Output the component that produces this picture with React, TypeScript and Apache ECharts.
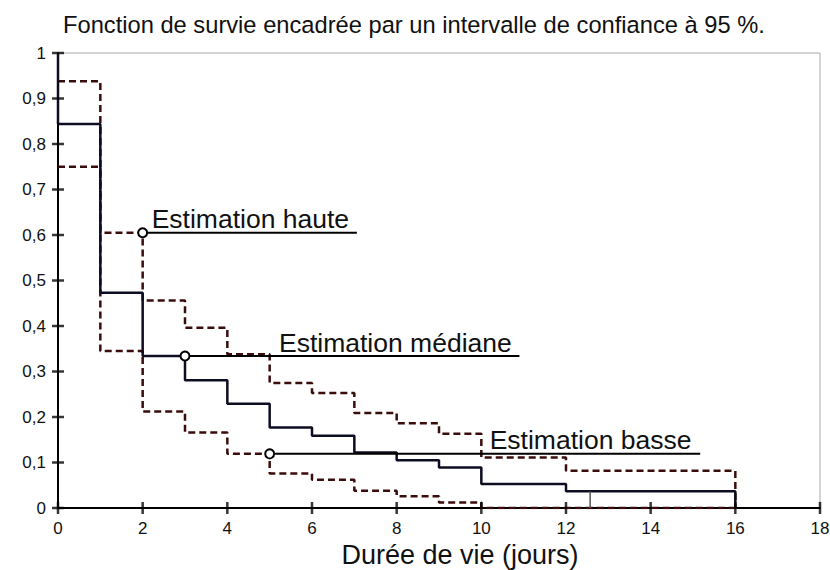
import React, { useEffect, useRef } from "react";
import * as echarts from "echarts";

const titleText = "Fonction de survie encadrée par un intervalle de confiance à 95 %.";
const xAxisTitle = "Durée de vie (jours)";

const xTickValues = [0, 2, 4, 6, 8, 10, 12, 14, 16, 18];
const yTickValues = [0, 0.1, 0.2, 0.3, 0.4, 0.5, 0.6, 0.7, 0.8, 0.9, 1];

const medianTimes = [0, 0, 1, 2, 3, 4, 5, 6, 7, 8, 9, 10, 12, 16];
const medianSurvival = [1, 0.844, 0.473, 0.334, 0.281, 0.229, 0.177, 0.159, 0.122, 0.105, 0.089, 0.053, 0.037, 0];

const upperTimes = [0, 1, 2, 3, 4, 5, 6, 7, 8, 9, 10, 12, 16];
const upperSurvival = [0.938, 0.605, 0.456, 0.396, 0.338, 0.275, 0.253, 0.209, 0.186, 0.163, 0.111, 0.082, 0];

const lowerTimes = [0, 1, 2, 3, 4, 5, 6, 7, 8, 9, 10, 16];
const lowerSurvival = [0.75, 0.345, 0.212, 0.166, 0.119, 0.076, 0.062, 0.038, 0.026, 0.012, 0, 0];

const censorTime = 12.57;
const censorTop = 0.037;

const annotLabels = ["Estimation haute", "Estimation médiane", "Estimation basse"];
const annotStartX = [2, 3, 5];
const annotY = [0.605, 0.334, 0.119];
const annotEndX = [7.06, 10.9, 15.17];
const annotLabelDx = [14.5, 99.5, 225.5];

const FONT = "'Liberation Sans', Arial, Helvetica, sans-serif";

function fmtY(v: number) {
  if (v === 0 || v === 1) return String(v);
  return v.toFixed(1).replace(".", ",");
}

export default function App() {
  const ref = useRef<HTMLDivElement>(null);
  useEffect(() => {
    if (!ref.current) return;
    const chart = echarts.init(ref.current, null, { renderer: "svg" });

    const solid = "#0c0c22";
    const dashCol = "#3a0c0c";
    const TICK = 6;

    const zip = (a: number[], b: number[]) => a.map((t, i) => [t, b[i]]);

    const annotSeries = annotLabels.map((lab, i) => ({
      type: "line",
      xAxisIndex: 0,
      yAxisIndex: 0,
      symbol: "none",
      showSymbol: true,
      z: 5,
      lineStyle: { color: "#000", width: 2 },
      data: [
        {
          value: [annotStartX[i], annotY[i]],
          symbol: "circle",
          symbolSize: 9,
          itemStyle: { color: "#fff", borderColor: "#000", borderWidth: 2 },
          label: {
            show: true,
            formatter: lab,
            position: [annotLabelDx[i], 5],
            align: "left",
            verticalAlign: "bottom",
            fontSize: 26.5,
            lineHeight: 26,
            fontFamily: FONT,
            color: "#111",
          },
        },
        { value: [annotEndX[i], annotY[i]], symbol: "none" },
      ],
    }));

    chart.setOption({
      animation: false,
      backgroundColor: "#fff",
      title: {
        text: titleText,
        left: 63,
        top: 13,
        padding: 0,
        textStyle: { fontSize: 23.7, fontWeight: "normal", color: "#111", fontFamily: FONT },
      },
      grid: {
        left: 58,
        right: 10,
        top: 53,
        bottom: 62,
        outerBoundsMode: "none",
        containLabel: false,
        show: true,
        borderColor: "#a8a8a8",
        borderWidth: 1,
        backgroundColor: "transparent",
      },
      xAxis: {
        type: "value",
        min: 0,
        max: 18,
        interval: 2,
        splitLine: { show: false },
        position: "bottom",
        name: xAxisTitle,
        nameLocation: "middle",
        nameGap: 31,
        nameTextStyle: { fontSize: 27, color: "#111", fontFamily: FONT, padding: [0, 0, 0, 42] },
        axisLine: { show: true, onZero: false, lineStyle: { color: "#000", width: 2 } },
        axisTick: { show: false },
        axisLabel: { fontSize: 17, color: "#111", margin: 12, fontFamily: FONT },
      },
      yAxis: {
        type: "value",
        min: 0,
        max: 1,
        interval: 0.1,
        splitLine: { show: false },
        position: "left",
        axisLine: { show: true, onZero: false, lineStyle: { color: "#000", width: 2 } },
        axisTick: { show: false },
        axisLabel: { fontSize: 17, color: "#111", margin: 12, fontFamily: FONT, formatter: fmtY },
      },
      series: [
        {
          type: "line",
          step: "end",
          symbol: "none",
          z: 2,
          lineStyle: { color: dashCol, width: 2.5, type: [7, 4] },
          data: zip(upperTimes, upperSurvival),
        },
        {
          type: "line",
          step: "end",
          symbol: "none",
          z: 2,
          lineStyle: { color: dashCol, width: 2.5, type: [7, 4] },
          data: zip(lowerTimes, lowerSurvival),
        },
        {
          type: "line",
          step: "end",
          symbol: "none",
          z: 3,
          lineStyle: { color: solid, width: 2.5 },
          data: zip(medianTimes, medianSurvival),
        },
        {
          type: "line",
          symbol: "none",
          z: 3,
          lineStyle: { color: "#555", width: 1.5 },
          data: [
            [censorTime, 0],
            [censorTime, censorTop],
          ],
        },
        ...annotSeries,
        {
          type: "scatter",
          symbol: "rect",
          symbolSize: [2.5, TICK * 2],
          z: 6,
          silent: true,
          clip: false,
          itemStyle: { color: "#050505" },
          data: xTickValues.map((v) => [v, 0]),
        },
        {
          type: "scatter",
          symbol: "rect",
          symbolSize: [TICK * 2, 2.5],
          z: 6,
          silent: true,
          clip: false,
          itemStyle: { color: "#050505" },
          data: yTickValues.map((v) => [0, v]),
        },
      ],
    } as any);

    return () => chart.dispose();
  }, []);

  return (
    <div
      ref={ref}
      style={{ position: "fixed", left: 0, top: 0, width: 830, height: 570, background: "#fff" }}
    />
  );
}
